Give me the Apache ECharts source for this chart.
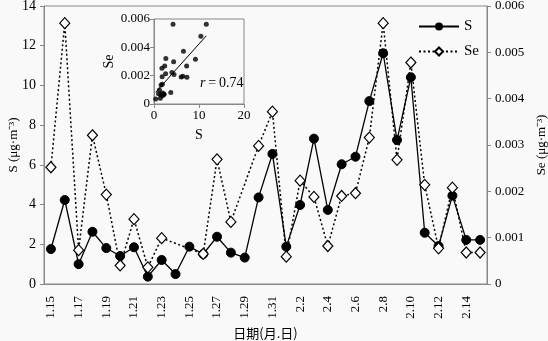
<!DOCTYPE html>
<html>
<head>
<meta charset="utf-8">
<script src="https://cdn.jsdelivr.net/npm/echarts@6/dist/echarts.min.js"></script>
<style>html,body{margin:0;padding:0;background:#f9f9f9;}#c{width:548px;height:341px;}</style>
</head>
<body>
<div id="c"></div>
<script>
const dates = ['1.15','1.16','1.17','1.18','1.19','1.20','1.21','1.22','1.23','1.24','1.25','1.26','1.27','1.28','1.29','1.30','1.31',
  '2.1','2.2','2.3','2.4','2.5','2.6','2.7','2.8','2.9','2.10','2.11','2.12','2.13','2.14','2.15'];
const sValues = [1.76,4.23,1.00,2.63,1.81,1.41,1.85,0.37,1.21,0.50,1.88,1.51,2.38,1.58,1.33,4.36,6.55,
  1.88,3.98,7.32,3.73,6.03,6.41,9.21,11.62,7.25,10.41,2.58,1.91,4.45,2.22,2.22];
const seValues = [0.00252,0.00563,0.00073,0.00321,0.00193,0.00040,0.00140,0.00036,0.00099,null,null,0.00065,0.00269,0.00134,null,0.00298,0.00372,
  0.00059,0.00223,0.00188,0.00082,0.00190,0.00196,0.00316,0.00563,0.00268,0.00478,0.00214,0.00077,0.00208,0.00068,0.00068];
const leftTicks = {min:0,max:14,interval:2};
const rightTicks = {min:0,max:0.006,interval:0.001};
const rText = '0.74';

const pairs = [];
sValues.forEach((s,i)=>{ if(seValues[i]!=null) pairs.push([s,seValues[i]]); });
// least squares fit
const n = pairs.length;
let sx=0,sy=0,sxx=0,sxy=0;
pairs.forEach(([x,y])=>{sx+=x;sy+=y;sxx+=x*x;sxy+=x*y;});
const b = (n*sxy - sx*sy)/(n*sxx - sx*sx);
const a = (sy - b*sx)/n;
const xs = pairs.map(p=>p[0]);
const x0 = Math.min(...xs), x1 = Math.max(...xs);
const fitLine = [[x0, a+b*x0],[x1, a+b*x1]];

const serif = 'Liberation Serif';
const axisGray = '#888';
const chart = echarts.init(document.getElementById('c'));
chart.setOption({
  backgroundColor:'#f9f9f9',
  animation:false,
  textStyle:{fontFamily:serif,color:'#000'},
  legend:{
    orient:'vertical', left:413, top:14, itemWidth:40, itemHeight:10, itemGap:10,
    textStyle:{fontFamily:serif,fontSize:15,color:'#000'},
    data:['S','Se']
  },
  grid:[
    {left:44,right:61,top:6,bottom:57,show:true,borderColor:axisGray,borderWidth:1,backgroundColor:'transparent',outerBoundsMode:'none',containLabel:false},
    {left:154,top:19,width:90,height:85,show:true,borderColor:axisGray,borderWidth:1,backgroundColor:'transparent',outerBoundsMode:'none',containLabel:false}
  ],
  xAxis:[
    {type:'category',gridIndex:0,data:dates,boundaryGap:true,
     axisLine:{lineStyle:{color:axisGray}},
     axisTick:{interval:1,length:4,lineStyle:{color:axisGray}},
     axisLabel:{interval:1,rotate:90,fontSize:13,color:'#000',fontFamily:serif,margin:12},
     name:'日期(月.日)',nameLocation:'middle',nameGap:43,
     nameTextStyle:{fontFamily:'Noto Sans CJK SC',fontSize:13,color:'#000'}},
    {type:'value',gridIndex:1,min:0,max:20,interval:10,
     axisLine:{lineStyle:{color:axisGray}},
     axisTick:{length:4,lineStyle:{color:axisGray}},
     splitLine:{show:false},
     axisLabel:{fontSize:13,color:'#000',fontFamily:serif,margin:5},
     name:'S',nameLocation:'middle',nameGap:24,
     nameTextStyle:{fontFamily:serif,fontSize:14,color:'#000'}}
  ],
  yAxis:[
    {type:'value',gridIndex:0,min:leftTicks.min,max:leftTicks.max,interval:leftTicks.interval,
     axisLine:{show:true,lineStyle:{color:axisGray}},
     axisTick:{show:true,length:4,lineStyle:{color:axisGray}},
     splitLine:{show:false},
     axisLabel:{fontSize:14,color:'#000',fontFamily:serif,margin:8},
     name:'S (μg·m⁻³)',nameLocation:'middle',nameGap:24,nameRotate:90,nameMoveOverlap:false,
     nameTextStyle:{fontFamily:serif,fontSize:13,color:'#000'}},
    {type:'value',gridIndex:0,position:'right',min:rightTicks.min,max:rightTicks.max,interval:rightTicks.interval,
     axisLine:{show:true,lineStyle:{color:axisGray}},
     axisTick:{show:true,length:4,lineStyle:{color:axisGray}},
     splitLine:{show:false},
     axisLabel:{fontSize:13,color:'#000',fontFamily:serif,margin:8},
     name:'Se (μg·m⁻³)',nameLocation:'middle',nameGap:44,nameRotate:90,
     nameTextStyle:{fontFamily:serif,fontSize:13,color:'#000'}},
    {type:'value',gridIndex:1,min:0,max:0.006,interval:0.002,
     axisLine:{show:true,lineStyle:{color:axisGray}},
     axisTick:{show:true,length:4,lineStyle:{color:axisGray}},
     splitLine:{show:false},
     axisLabel:{fontSize:13,color:'#000',fontFamily:serif,margin:4},
     name:'Se',nameLocation:'middle',nameGap:38,nameRotate:90,
     nameTextStyle:{fontFamily:serif,fontSize:14,color:'#000'}}
  ],
  graphic:[
    {type:'text',left:200,top:76,style:{
      text:'{i|r}\u2009=\u20090.74'.replace('0.74',rText),
      rich:{i:{fontStyle:'italic',fontFamily:serif,fontSize:14,fill:'#000'}},
      font:'14px "Liberation Serif"',fill:'#000'}}
  ],
  series:[
    {name:'S',type:'line',xAxisIndex:0,yAxisIndex:0,data:sValues,
     symbol:'circle',symbolSize:9,showAllSymbol:true,
     lineStyle:{color:'#000',width:1.3},
     itemStyle:{color:'#000',borderColor:'#000'},z:2},
    {name:'Se',type:'line',xAxisIndex:0,yAxisIndex:1,data:seValues,connectNulls:true,
     symbol:'diamond',symbolSize:[10,11],showAllSymbol:true,
     lineStyle:{color:'#000',width:1.5,type:[2,2.5]},
     itemStyle:{color:'#fff',borderColor:'#000',borderWidth:1.2},z:3},
    {name:'scatter',type:'scatter',xAxisIndex:1,yAxisIndex:2,data:pairs,
     symbol:'circle',symbolSize:5,itemStyle:{color:'#000'}},
    {name:'fit',type:'line',xAxisIndex:1,yAxisIndex:2,data:fitLine,
     symbol:'none',lineStyle:{color:'#000',width:1}}
  ]
});
</script>
</body>
</html>
